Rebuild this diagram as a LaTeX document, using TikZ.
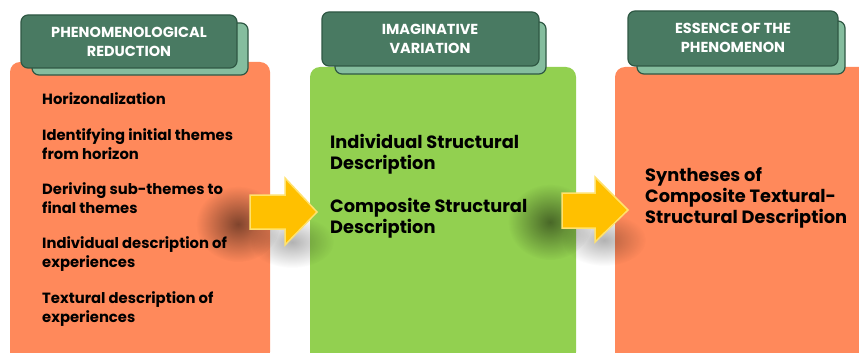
\documentclass[tikz,border=0pt]{standalone}
\usepackage{fontspec}
\setmainfont{Poppins}[BoldFont={Poppins Bold}]
\usetikzlibrary{fadings}
\definecolor{boxorange}{RGB}{255,137,91}
\definecolor{boxgreen}{RGB}{146,208,80}
\definecolor{tabdark}{RGB}{73,122,98}
\definecolor{tablight}{RGB}{133,189,158}
\definecolor{tabedge}{RGB}{47,88,68}
\definecolor{arrowfill}{RGB}{255,192,0}
\definecolor{arrowedge}{RGB}{255,226,110}
\tikzfading[name=softblob, inner color=transparent!0, outer color=transparent!100]
\tikzset{
  panel/.style={rounded corners=10pt, draw=none},
  tabback/.style={fill=tablight, draw=tabedge, line width=1.2pt, rounded corners=7pt},
  tabfront/.style={fill=tabdark, draw=tabedge, line width=1.2pt, rounded corners=7pt},
  tabtext/.style={text=white, font=\bfseries\fontsize{14.5}{19}\selectfont, align=center, inner sep=0pt},
  itemtext/.style={font=\bfseries\fontsize{14.8}{19}\selectfont, align=left, anchor=north west, inner sep=0pt},
  bigtext/.style={font=\bfseries\fontsize{17.8}{21}\selectfont, align=left, anchor=north west, inner sep=0pt},
  blockarrow/.style={fill=arrowfill, draw=arrowedge, line width=1.5pt, line join=miter},
  shade/.style={fill=black, path fading=softblob},
}
\begin{document}
\begin{tikzpicture}[x=1pt,y=-1pt]
\useasboundingbox (0,0) rectangle (859,353);
\fill[white] (0,0) rectangle (859,353);
% panels
\fill[boxorange, panel] (10,62) rectangle (270,362);
\fill[boxgreen, panel] (310,67) rectangle (576,362);
\fill[boxorange, panel] (615,67) rectangle (880,362);
% tabs
\draw[tabback] (32,23) rectangle (248,75);
\draw[tabfront] (21,15) rectangle (237,68);
\node[tabtext] (t1) at (129,42) {PHENOMENOLOGICAL\\REDUCTION};
\draw[tabback] (335,22) rectangle (546,74);
\draw[tabfront] (322,12) rectangle (539,66);
\node[tabtext] (t2) at (430,39) {IMAGINATIVE\\VARIATION};
\draw[tabback] (637,21) rectangle (845,74);
\draw[tabfront] (628,11) rectangle (838,66);
\node[tabtext] (t3) at (733,38) {ESSENCE OF THE\\PHENOMENON};
% texts
\node[itemtext] (a1) at (42,92) {Horizonalization};
\node[itemtext] (a2) at (42,128) {Identifying initial themes\\from horizon};
\node[itemtext] (a3) at (42,182) {Deriving sub-themes to\\final themes};
\node[itemtext] (a4) at (42,236) {Individual description of\\experiences};
\node[itemtext] (a5) at (42,291) {Textural description of\\experiences};
\node[bigtext] (b1) at (330,134) {Individual Structural\\Description};
\node[bigtext] (b2) at (330,198) {Composite Structural\\Description};
\node[bigtext] (c1) at (645,167) {Syntheses of\\Composite Textural-\\Structural Description};
% shadows
\fill[shade, opacity=0.5] (238,224) ellipse (42 and 38);
\fill[shade, opacity=0.3] (292,242) ellipse (42 and 26);
\fill[shade, opacity=0.5] (550,222) ellipse (42 and 38);
\fill[shade, opacity=0.3] (604,240) ellipse (42 and 26);
% arrows
\draw[blockarrow] (250,195) -- (285,195) -- (285,178) -- (317,212) -- (285,245) -- (285,229) -- (250,229) -- cycle;
\draw[blockarrow] (562,193) -- (595,193) -- (595,177) -- (628,210) -- (595,242) -- (595,228) -- (562,228) -- cycle;
\end{tikzpicture}
\end{document}
